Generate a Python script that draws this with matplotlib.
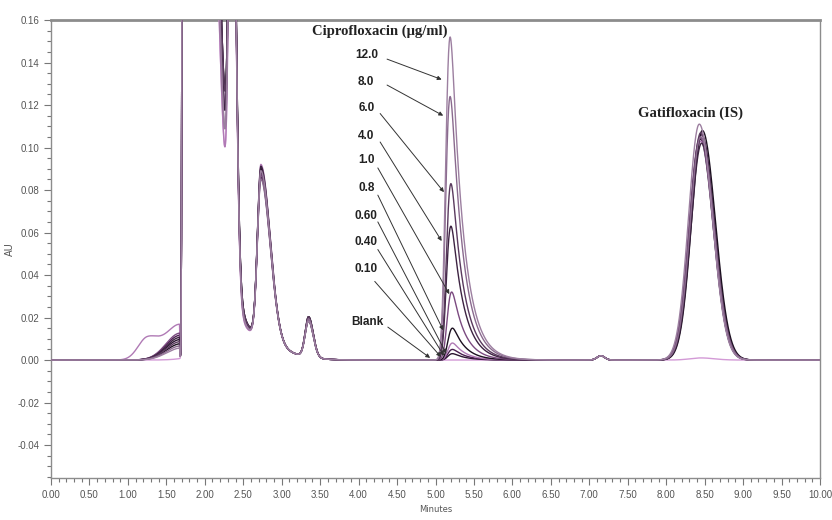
import matplotlib
matplotlib.use('Agg')

import matplotlib.pyplot as plt
from matplotlib.ticker import MultipleLocator, FormatStrFormatter
import numpy as np
import math

# Peak table, one entry per injection
conc_labels = ['Blank', '0.10', '0.40', '0.60', '0.8', '1.0', '4.0', '6.0', '8.0', '12.0']
cipro_height = [0.0, 0.003, 0.005, 0.008, 0.015, 0.032, 0.063, 0.083, 0.124, 0.152]
cipro_rt = [5.20, 5.22, 5.22, 5.22, 5.22, 5.21, 5.20, 5.20, 5.19, 5.19]
gati_height = [0.001, 0.104, 0.106, 0.103, 0.108, 0.105, 0.102, 0.107, 0.105, 0.111]
gati_rt = [8.45, 8.44, 8.46, 8.45, 8.47, 8.44, 8.46, 8.45, 8.45, 8.43]
front_tail = [0.24, 0.255, 0.25, 0.24, 0.255, 0.25, 0.25, 0.255, 0.245, 0.245]
pre_front = [0.0, 0.009, 0.011, 0.016, 0.007, 0.012, 0.010, 0.008, 0.006, 0.005]
early_hump = [0.0, 0.0, 0.0, 0.010, 0.0, 0.0, 0.0, 0.0, 0.0, 0.0]
peak_273 = [0.078, 0.080, 0.076, 0.082, 0.079, 0.077, 0.081, 0.078, 0.075, 0.079]
peak_335 = [0.018, 0.019, 0.017, 0.018, 0.019, 0.018, 0.017, 0.019, 0.018, 0.017]
trace_colors = ['#d39ad6', '#2a1530', '#4a2050', '#b07ab5', '#1c1020',
                '#7b4a80', '#3d2342', '#5a3a5e', '#8a6a8e', '#9c7fa0']

# label text position, arrow start and arrow tip (minutes, AU)
label_xy = [(4.11, 0.018), (4.10, 0.043), (4.10, 0.0555), (4.10, 0.068), (4.10, 0.081),
            (4.10, 0.094), (4.10, 0.1054), (4.10, 0.1186), (4.10, 0.131), (4.10, 0.1435)]
arrow_from = [(4.38, 0.0155), (4.21, 0.037), (4.25, 0.052), (4.25, 0.065), (4.25, 0.0776),
              (4.25, 0.0904), (4.28, 0.1026), (4.28, 0.116), (4.37, 0.1294), (4.37, 0.1416)]
arrow_to = [(4.93, 0.001), (5.07, 0.0015), (5.11, 0.002), (5.14, 0.003), (5.10, 0.014),
            (5.18, 0.031), (5.08, 0.056), (5.11, 0.079), (5.10, 0.115), (5.08, 0.132)]

t = np.linspace(0, 10, 5001)
erfc = np.frompyfunc(math.erfc, 1, 1)


def bigauss(x, mu, h, sl, sr):
    s = np.where(x < mu, sl, sr)
    return h * np.exp(-(x - mu) ** 2 / (2 * s ** 2))


def emg(x, rt, h, sigma=0.04, tau=0.16):
    """Tailing peak, shifted so that its apex sits at rt"""
    def raw(z):
        arg = (sigma / tau - z / sigma) / math.sqrt(2)
        return np.exp(sigma ** 2 / (2 * tau ** 2) - z / tau) * erfc(arg).astype(float)
    grid = np.linspace(-0.3, 0.6, 901)
    ref = raw(grid)
    apex = grid[np.argmax(ref)]
    return h * raw(x - rt + apex) / ref.max()


def trace(i):
    y = bigauss(t, 1.72, 1.0, 0.01, front_tail[i])        # solvent front
    y = y + bigauss(t, 1.67, pre_front[i], 0.18, 0.005)   # ramp before the front
    y = y + bigauss(t, 1.25, early_hump[i], 0.12, 0.15)
    y = y + bigauss(t, 2.40, 0.013, 0.30, 0.45)           # matrix background
    y = y + bigauss(t, 2.35, 0.25, 0.035, 0.05)
    y = y + bigauss(t, 2.73, peak_273[i], 0.045, 0.121)
    y = y + bigauss(t, 3.35, peak_335[i], 0.045, 0.06)
    y = y + bigauss(t, 7.15, 0.002, 0.05, 0.05)
    if cipro_height[i] > 0:
        y = y + emg(t, cipro_rt[i], cipro_height[i])
    y = y + bigauss(t, gati_rt[i], gati_height[i], 0.14, 0.17)
    return y


fig = plt.figure(figsize=(8.32, 5.2), dpi=100)
ax = fig.add_axes([0.0613, 0.0808, 0.9243, 0.8807])

for i in range(len(conc_labels)):
    ax.plot(t, trace(i), color=trace_colors[i], lw=1.0, zorder=3)

# concentration labels with arrows
bold_sans = dict(fontsize=8.5, fontweight='bold', family='Liberation Sans', color='#222222')
for i, lab in enumerate(conc_labels):
    ax.text(label_xy[i][0], label_xy[i][1], lab, ha='center', va='center', **bold_sans)
    ax.annotate('', xy=arrow_to[i], xytext=arrow_from[i],
                arrowprops=dict(arrowstyle='-|>', color='#333333', lw=0.7,
                                mutation_scale=6, shrinkA=0, shrinkB=0), zorder=4)

ax.text(4.28, 0.1545, 'Ciprofloxacin (\u03bcg/ml)', ha='center', va='center',
        fontsize=10.5, fontweight='bold', family='Liberation Serif', color='#222222')
ax.text(8.31, 0.116, 'Gatifloxacin (IS)', ha='center', va='center',
        fontsize=10.5, fontweight='bold', family='Liberation Serif', color='#222222')

ax.set_xlim(0, 10)
ax.set_ylim(-0.0555, 0.16)
ax.xaxis.set_major_locator(MultipleLocator(0.5))
ax.xaxis.set_minor_locator(MultipleLocator(0.1))
ax.yaxis.set_major_locator(MultipleLocator(0.02))
ax.yaxis.set_minor_locator(MultipleLocator(0.005))
ax.xaxis.set_major_formatter(FormatStrFormatter('%.2f'))
ax.yaxis.set_major_formatter(FormatStrFormatter('%.2f'))
ax.tick_params(which='both', direction='out', colors='#777777', labelcolor='#555555',
               labelsize=7, width=0.8)
ax.tick_params(which='major', length=5)
ax.tick_params(which='minor', length=3)
for lab in ax.get_xticklabels() + ax.get_yticklabels():
    lab.set_family('Liberation Sans')

for side in ['left', 'right', 'bottom']:
    ax.spines[side].set_color('#8c8c8c')
    ax.spines[side].set_linewidth(1.0)
ax.spines['top'].set_color('#8c8c8c')
ax.spines['top'].set_linewidth(2.0)

ax.set_xlabel('Minutes', fontsize=6, color='#555555', labelpad=4)
ax.set_ylabel('AU', fontsize=7, color='#555555')
ax.yaxis.set_label_coords(-0.047, 0.5)

plt.savefig('out.png', dpi=100)
